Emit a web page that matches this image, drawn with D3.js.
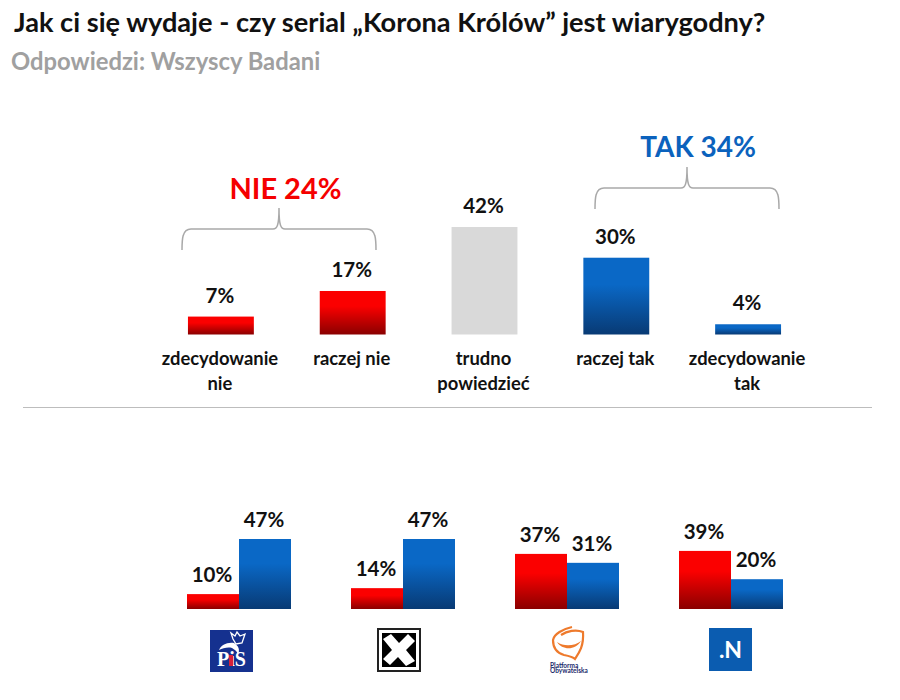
<!DOCTYPE html>
<html>
<head>
    <meta charset="utf-8">
    <style>
        html, body { margin: 0; background: #fff; }
        text { font-family: "Lato", "Open Sans", sans-serif; font-weight: 700; }
    </style>
    <script src="https://d3js.org/d3.v7.min.js"></script>
</head>
<body>
<svg id="chart" width="900" height="700"></svg>
<script>
    // top chart
    var answers = [["zdecydowanie", "nie"], ["raczej nie"], ["trudno", "powiedzieć"], ["raczej tak"], ["zdecydowanie", "tak"]];
    var answerValues = [7, 17, 42, 30, 4];
    var answerKinds = ["nie", "nie", "neutral", "tak", "tak"];

    // bottom chart
    var parties = ["PiS", "Kukiz", "PO", "N"];
    var partyNie = [10, 14, 37, 39];
    var partyTak = [47, 47, 31, 20];

    var svg = d3.select("#chart");
    var defs = svg.append("defs");

    function gradient(id, top, bottom) {
        var g = defs.append("linearGradient").attr("id", id)
            .attr("x1", 0).attr("x2", 0).attr("y1", 0).attr("y2", 1);
        g.append("stop").attr("offset", "0%").attr("stop-color", top);
        g.append("stop").attr("offset", "35%").attr("stop-color", top);
        g.append("stop").attr("offset", "100%").attr("stop-color", bottom);
    }
    gradient("redBar", "#fb0000", "#8a0000");
    gradient("blueBar", "#0a68c6", "#083a74");
    var fills = { nie: "url(#redBar)", tak: "url(#blueBar)", neutral: "#d9d9d9" };

    // titles
    svg.append("text").attr("x", 14).attr("y", 32).attr("font-size", 27.2).attr("fill", "#111")
        .text("Jak ci się wydaje - czy serial „Korona Królów” jest wiarygodny?");
    svg.append("text").attr("x", 11).attr("y", 70).attr("font-size", 23.8).attr("fill", "#a0a0a0")
        .text("Odpowiedzi: Wszyscy Badani");

    // top bars
    var x = d3.scaleBand().domain(d3.range(answers.length)).range([155, 814]).paddingInner(0.5).paddingOuter(0.25);
    var y = d3.scaleLinear().domain([0, 42]).range([334.5, 227]);

    svg.append("g").selectAll("rect").data(answerValues).enter().append("rect")
        .attr("x", function(d, i) { return x(i); })
        .attr("y", function(d) { return y(d); })
        .attr("width", x.bandwidth())
        .attr("height", function(d) { return y(0) - y(d); })
        .attr("fill", function(d, i) { return fills[answerKinds[i]]; });

    svg.append("g").selectAll("text").data(answerValues).enter().append("text")
        .attr("x", function(d, i) { return x(i) + x.bandwidth() / 2 - 1; })
        .attr("y", function(d) { return y(d) - 14; })
        .attr("text-anchor", "middle").attr("font-size", 20.5).attr("fill", "#111")
        .text(function(d) { return d + "%"; });

    var labels = svg.append("g").selectAll("text").data(answers).enter().append("text")
        .attr("text-anchor", "middle").attr("font-size", 18.4).attr("fill", "#111");
    labels.each(function(lines, i) {
        d3.select(this).selectAll("tspan").data(lines).enter().append("tspan")
            .attr("x", x(i) + x.bandwidth() / 2 - 1)
            .attr("y", function(d, j) { return 365 + j * 25; })
            .text(function(d) { return d; });
    });

    // braces
    function brace(x0, x1, tip, top, bottom) {
        var p = d3.path();
        p.moveTo(x0, bottom);
        p.bezierCurveTo(x0, bottom - 10, x0, top, x0 + 9, top);
        p.lineTo(tip - 6, top);
        p.bezierCurveTo(tip - 2, top, tip, top - 3, tip, top - 21);
        p.bezierCurveTo(tip, top - 3, tip + 2, top, tip + 6, top);
        p.lineTo(x1 - 9, top);
        p.bezierCurveTo(x1, top, x1, bottom - 10, x1, bottom);
        svg.append("path").attr("d", p.toString()).attr("fill", "none")
            .attr("stroke", "#a9a9a9").attr("stroke-width", 1.5);
    }
    brace(182, 376, 279, 229, 250);
    brace(595, 779, 687, 188, 209);

    svg.append("text").attr("x", 285.5).attr("y", 199).attr("text-anchor", "middle")
        .attr("font-size", 29).attr("fill", "#f50000").text("NIE 24%");
    svg.append("text").attr("x", 698).attr("y", 157).attr("text-anchor", "middle")
        .attr("font-size", 28).attr("fill", "#0b62bd").text("TAK 34%");

    // separator
    svg.append("line").attr("x1", 23).attr("x2", 872).attr("y1", 407.5).attr("y2", 407.5)
        .attr("stroke", "#bdbdbd").attr("stroke-width", 1);

    // bottom bars
    var x0 = d3.scaleBand().domain(parties).range([187, 843]).paddingInner(0).paddingOuter(0);
    var x1 = d3.scaleBand().domain(["nie", "tak"]).range([0, 104]);
    var y2 = d3.scaleLinear().domain([0, 47]).range([609, 539]);

    var groups = svg.append("g").selectAll("g").data(parties).enter().append("g")
        .attr("transform", function(d) { return "translate(" + x0(d) + ",0)"; });

    groups.each(function(d, i) {
        var pair = [{ key: "nie", value: partyNie[i] }, { key: "tak", value: partyTak[i] }];
        var g = d3.select(this);
        g.selectAll("rect").data(pair).enter().append("rect")
            .attr("x", function(p) { return x1(p.key); })
            .attr("y", function(p) { return y2(p.value); })
            .attr("width", x1.bandwidth())
            .attr("height", function(p) { return y2(0) - y2(p.value); })
            .attr("fill", function(p) { return fills[p.key]; });
        g.selectAll("text").data(pair).enter().append("text")
            .attr("x", function(p) { return x1(p.key) + x1.bandwidth() / 2 - 1; })
            .attr("y", function(p) { return y2(p.value) - 12; })
            .attr("text-anchor", "middle").attr("font-size", 20.5).attr("fill", "#111")
            .text(function(p) { return p.value + "%"; });
    });

    // party logos, drawn by hand
    var logos = svg.append("g");

    var pis = logos.append("g").attr("transform", "translate(210,630)");
    pis.append("rect").attr("width", 43).attr("height", 42).attr("fill", "#15318f");
    pis.append("path").attr("d", "M23 9 L21 3 L25 6 L27 2 L30 6 L35 4 L32 13 L26 14 Z").attr("fill", "none").attr("stroke", "#fff").attr("stroke-width", 1.3);
    pis.append("path").attr("d", "M24 13 C17 12 11 15 9 20 C13 18 18 17 22 18 C25 20 27 21 28 25 C30 20 29 16 24 13 Z").attr("fill", "#fff");
    pis.append("text").attr("x", 21.5).attr("y", 36).attr("text-anchor", "middle")
        .attr("font-size", 20).attr("fill", "#fff").style("font-family", "'Liberation Serif', serif").text("PiS");
    pis.append("rect").attr("x", 19).attr("y", 25).attr("width", 4).attr("height", 11).attr("fill", "#d8203a");

    var kukiz = logos.append("g").attr("transform", "translate(377,628)");
    kukiz.append("rect").attr("x", 1).attr("y", 1).attr("width", 42).attr("height", 42).attr("fill", "#fff").attr("stroke", "#222").attr("stroke-width", 2);
    kukiz.append("rect").attr("x", 5).attr("y", 5).attr("width", 34).attr("height", 34).attr("fill", "#000");
    kukiz.append("path").attr("d", "M6 11 L14 6 L22 15 L31 6 L38 13 L29 22 L38 33 L29 38 L21 29 L13 37 L6 31 L15 22 Z").attr("fill", "#fff");

    var po = logos.append("g").attr("transform", "translate(549,626)");
    po.append("path").attr("d", "M23 1 C14 3 5 8 4 14 C4 22 8 27 15 29 C20 30 24 31 26 33 C30 27 35 20 34 6 C27 3 18 5 12 9")
        .attr("fill", "none").attr("stroke", "#ee7a2c").attr("stroke-width", 2.2);
    po.append("path").attr("d", "M8 16 C13 24 26 25 32 15 C26 20 15 21 8 16 Z").attr("fill", "#ee7a2c");
    po.append("text").attr("x", 1).attr("y", 41.5).attr("font-size", 6.5).attr("fill", "#1b2a6b").text("Platforma");
    po.append("text").attr("x", 1).attr("y", 47).attr("font-size", 6.5).attr("fill", "#1b2a6b").text("Obywatelska");

    var n = logos.append("g").attr("transform", "translate(709,628)");
    n.append("rect").attr("width", 43).attr("height", 43).attr("fill", "#0b5cb0");
    n.append("text").attr("x", 21.5).attr("y", 30).attr("text-anchor", "middle")
        .attr("font-size", 23).attr("fill", "#fff").text(".N");
</script>
</body>
</html>
